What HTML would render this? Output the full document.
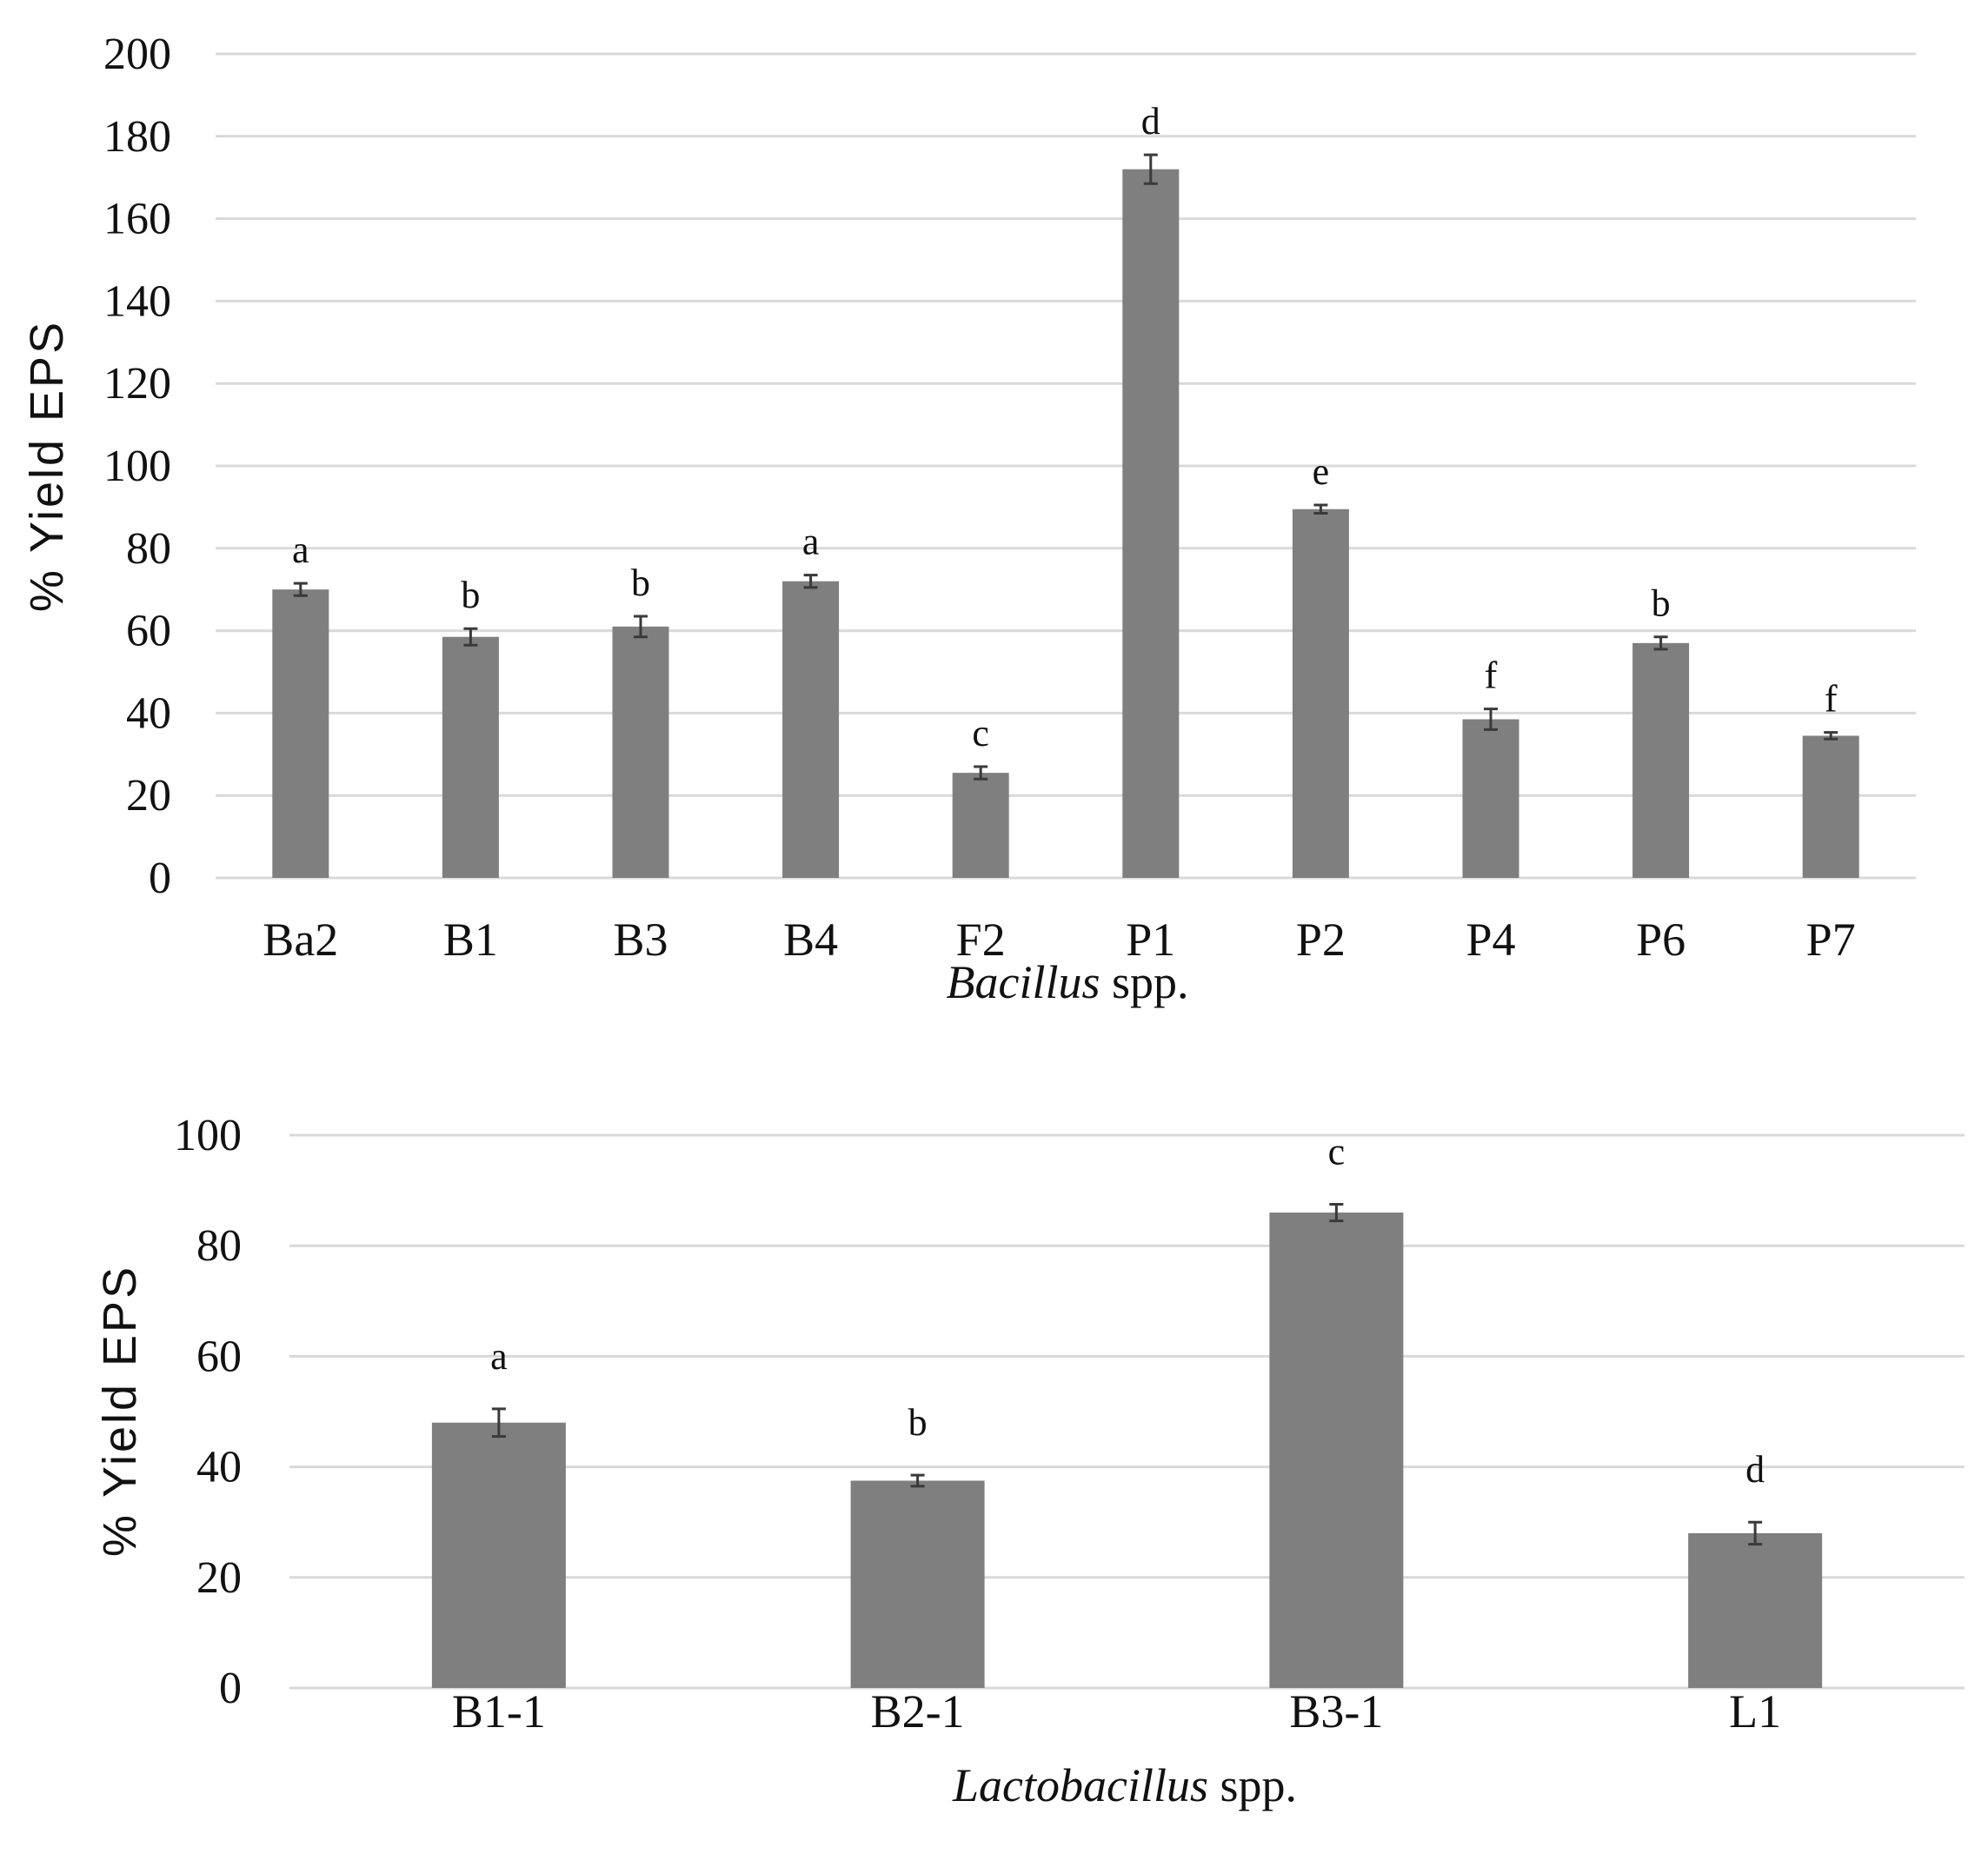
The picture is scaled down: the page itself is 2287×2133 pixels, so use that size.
<!DOCTYPE html>
<html><head><meta charset="utf-8"><style>
html,body{margin:0;padding:0;background:#fff;}
svg{display:block;font-family:"Liberation Serif",serif;}
</style></head><body>
<svg id="chart" width="2287" height="2133" viewBox="0 0 2287 2133" xmlns="http://www.w3.org/2000/svg">
<rect width="2287" height="2133" fill="#fff"/>
</svg>
<script>
const topCategories=["Ba2","B1","B3","B4","F2","P1","P2","P4","P6","P7"];
const topValues=[70,58.5,61,72,25.5,172,89.5,38.5,57,34.5];
const topErrors=[1.5,2,2.5,1.5,1.5,3.5,1,2.5,1.5,0.8];
const topLetters=["a","b","b","a","c","d","e","f","b","f"];
const topTicks=[0,20,40,60,80,100,120,140,160,180,200];
const botCategories=["B1-1","B2-1","B3-1","L1"];
const botValues=[48,37.5,86,28];
const botErrors=[2.5,1,1.5,2];
const botLetters=["a","b","c","d"];
const botTicks=[0,20,40,60,80,100];

const NS="http://www.w3.org/2000/svg";
const svg=document.getElementById('chart');
function mk(tag,attrs,parent,text){const e=document.createElementNS(NS,tag);for(const k in attrs)e.setAttribute(k,attrs[k]);if(text!==undefined)e.textContent=text;(parent||svg).appendChild(e);return e;}

function drawChart(cfg){
  const g=mk('g',{});
  
  
  const y=v=>cfg.y0-(v-cfg.min)/(cfg.max-cfg.min)*(cfg.y0-cfg.yTop);
  const step=(cfg.xR-cfg.xL)/cfg.cats.length;
  const x=i=>cfg.xL+step*(i+0.5);
  cfg.ticks.forEach(t=>{
    const l=mk('line',{x1:cfg.xL,x2:cfg.xR,y1:y(t),y2:y(t),stroke:'#d9d9d9','stroke-width':3},g);
    
    
    const tx=mk('text',{x:cfg.tickX,y:y(t)+17,'text-anchor':'end','font-size':52,fill:'#111'},g,String(t));
    
    
  });
  cfg.cats.forEach((c,i)=>{
    const v=cfg.vals[i],e=cfg.errs[i],cx=x(i);
    const b=mk('rect',{x:cx-cfg.bw/2,y:y(v),width:cfg.bw,height:y(0)-y(v),fill:'#7f7f7f'},g);
    
    
    const eg=mk('path',{d:`M${cx},${y(v+e)}V${y(v-e)}M${cx-8},${y(v+e)}H${cx+8}M${cx-8},${y(v-e)}H${cx+8}`,stroke:'#3a3a3a','stroke-width':3,fill:'none'},g);
    
    
    const lt=mk('text',{x:cx,y:y(v+e)-cfg.letterOff,'text-anchor':'middle','font-size':44,fill:'#111'},g,cfg.letters[i]);
    
    
    const xl=mk('text',{x:cx,y:cfg.labelY,'text-anchor':'middle','font-size':54,fill:'#111'},g,c);
    
    
  });
  const yt=mk('text',{x:0,y:0,transform:`translate(${cfg.yTitleX},${cfg.yTitleY}) rotate(-90)`,'text-anchor':'middle','font-size':54,fill:'#111','font-family':'"Liberation Sans",sans-serif','letter-spacing':3},g,'% Yield EPS');
  
  
  const xt=mk('text',{x:cfg.titleX,y:cfg.titleY,'text-anchor':'middle','font-size':54,fill:'#111'},g);
  
  
  mk('tspan',{'font-style':'italic'},xt,cfg.genus);
  mk('tspan',{},xt,' spp.');
}
drawChart({name:'bacillus-chart',cats:topCategories,vals:topValues,errs:topErrors,letters:topLetters,ticks:topTicks,min:0,max:200,y0:1010,yTop:62,xL:248,xR:2204,bw:65,tickX:197,letterOff:24,labelY:1099,yTitleX:72,yTitleY:536,titleX:1228,titleY:1148,genus:'Bacillus'});
drawChart({name:'lactobacillus-chart',cats:botCategories,vals:botValues,errs:botErrors,letters:botLetters,ticks:botTicks,min:0,max:100,y0:1942,yTop:1306,xL:333,xR:2260,bw:154,tickX:278,letterOff:46,labelY:1987,yTitleX:156,yTitleY:1623,titleX:1294,titleY:2072,genus:'Lactobacillus'});
</script>
</body></html>
